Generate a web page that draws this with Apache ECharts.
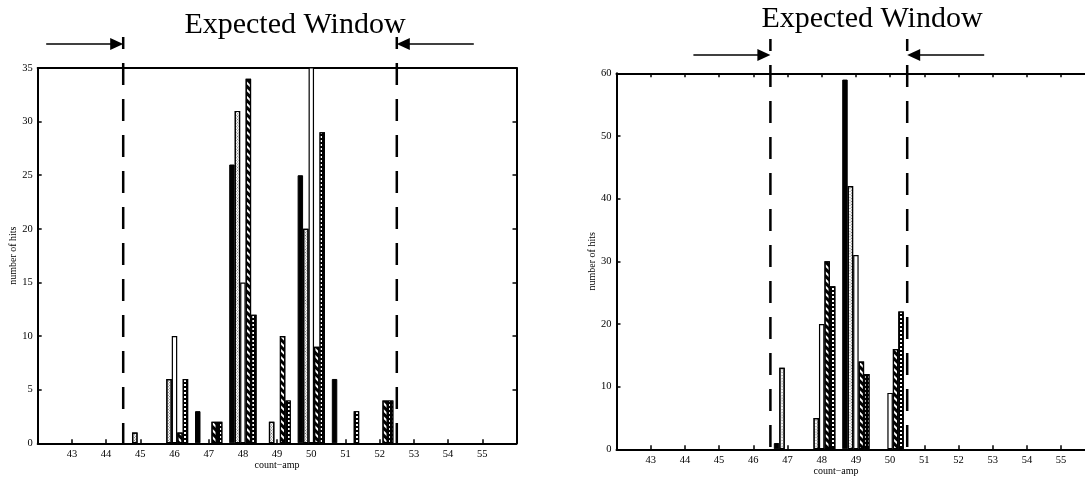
<!DOCTYPE html>
<html><head><meta charset="utf-8">
<script src="https://cdn.jsdelivr.net/npm/echarts@6/dist/echarts.min.js"></script>
<style>html,body{margin:0;padding:0;background:#fff}#c{width:1085px;height:478px}</style>
</head><body><div id="c"></div><script>
// x categories (count-amp) and tick labels
const categories = ['42','43','44','45','46','47','48','49','50','51','52','53','54','55','56'];
// left panel series (number of hits)
const leftSolid = [0,0,0,0,0,3,26,0,25,6,0,0,0,0,0];
const leftCross = [0,0,0,1,6,0,31,2,20,0,0,0,0,0,0];
const leftWhite = [0,0,0,0,10,0,15,0,36,0,0,0,0,0,0];
const leftDiag  = [0,0,0,0,1,2,34,10,9,0,4,0,0,0,0];
const leftDots  = [0,0,0,0,6,2,12,4,29,3,4,0,0,0,0];
// right panel series
const rightSolid = [0,0,0,0,0,1,0,59,0,0,0,0,0,0,0];
const rightCross = [0,0,0,0,0,13,5,42,0,0,0,0,0,0,0];
const rightWhite = [0,0,0,0,0,0,20,31,9,0,0,0,0,0,0];
const rightDiag  = [0,0,0,0,0,0,30,14,16,0,0,0,0,0,0];
const rightDots  = [0,0,0,0,0,0,26,12,22,0,0,0,0,0,0];
// expected window bounds
const leftWindow = [44.5, 52.5];
const rightWindow = [46.5, 50.5];
const titleText = 'Expected Window';
const xName = 'count\u2212amp';
const yName = 'number of hits';

const FONT = '"Liberation Serif", "Times New Roman", serif';
const chart = echarts.init(document.getElementById('c'), null, {renderer:'canvas'});

const lineStyle = {color:'#000', width:2};
function catAxis(grid, pos, ticks, labels){
  return {type:'category', gridIndex:grid, data:categories, boundaryGap:false, position:pos,
    axisLine:{show:true, onZero:false, lineStyle:lineStyle},
    axisTick:{show:ticks, inside:true, length:4, interval:0, lineStyle:{color:'#000', width:1.5}},
    axisLabel:{show:labels, interval:0, margin:5, color:'#000', fontFamily:FONT, fontSize:10.5,
      formatter:v => (v===categories[0] || v===categories[categories.length-1]) ? '' : v},
    splitLine:{show:false}};
}
function valAxis(grid, pos, max, interval, labels, name){
  return {type:'value', gridIndex:grid, min:0, max:max, interval:interval, position:pos,
    name: name || '', nameLocation:'middle', nameGap:17,
    nameTextStyle:{fontFamily:FONT, fontSize:10, color:'#000'},
    axisLine:{show:true, onZero:false, lineStyle:lineStyle},
    axisTick:{show:true, inside:true, length:4, lineStyle:{color:'#000', width:1.5}},
    axisLabel:{show:labels, margin:5, color:'#000', fontFamily:FONT, fontSize:10.5},
    splitLine:{show:false}};
}
const styles = {
  solid:{color:'#000', borderColor:'#000', borderWidth:1},
  cross:{color:'#fff', borderColor:'#000', borderWidth:1.2,
    decal:{symbol:'rect', symbolSize:1, dashArrayX:[1,1], dashArrayY:[1,1], rotation:Math.PI/4, color:'#666'}},
  white:{color:'#fff', borderColor:'#000', borderWidth:1.2},
  diag:{color:'#fff', borderColor:'#000', borderWidth:1.2,
    decal:{symbol:'rect', symbolSize:1, dashArrayX:[1,0], dashArrayY:[3,2], rotation:Math.PI/4, color:'#000'}},
  dots:{color:'#000', borderColor:'#000', borderWidth:1.2,
    decal:{symbol:'rect', symbolSize:1, dashArrayX:[2,1.5], dashArrayY:[2,1.5], rotation:0, color:'#fff'}}
};
function bar(data, xi, yi, st){
  // zero-count bins draw nothing
  return {type:'bar', xAxisIndex:xi, yAxisIndex:yi, data:data.map(v => v === 0 ? null : v),
    barGap:'0%', barCategoryGap:'20%', itemStyle:st, silent:true, animation:false, clip:true};
}

chart.setOption({
  animation:false,
  grid:[
    {left:37.7, top:68, width:478.8, height:375.3, outerBoundsMode:'none', containLabel:false},
    {left:616.5, top:73.3, width:478.8, height:376, outerBoundsMode:'none', containLabel:false}
  ],
  xAxis:[
    catAxis(0,'bottom',true,true),
    catAxis(1,'bottom',true,true),
    catAxis(0,'top',false,false),
    catAxis(1,'top',true,false),
    {type:'value', gridIndex:0, min:42, max:56, show:false},
    {type:'value', gridIndex:1, min:42, max:56, show:false}
  ],
  yAxis:[
    valAxis(0,'left',35,5,true,yName),
    valAxis(1,'left',60,10,true,yName),
    valAxis(0,'right',35,5,false),
    valAxis(1,'right',60,10,false)
  ],
  series:[
    bar(leftSolid,0,0,styles.solid),
    bar(leftCross,0,0,styles.cross),
    bar(leftWhite,0,0,styles.white),
    bar(leftDiag,0,0,styles.diag),
    bar(leftDots,0,0,styles.dots),
    bar(rightSolid,1,1,styles.solid),
    bar(rightCross,1,1,styles.cross),
    bar(rightWhite,1,1,styles.white),
    bar(rightDiag,1,1,styles.diag),
    bar(rightDots,1,1,styles.dots)
  ]
});

function annotations(win, xAxisIdx, yAxisIdx, topY, arrowY, titleX, titleY, nameX, nameY){
  const g = [];
  const bottom = chart.convertToPixel({yAxisIndex:yAxisIdx}, 0);
  const xs = win.map(v => chart.convertToPixel({xAxisIndex:xAxisIdx}, v));
  xs.forEach(x => {
    g.push({type:'line', z:100, silent:true, shape:{x1:x, y1:topY, x2:x, y2:bottom},
      style:{stroke:'#000', lineWidth:2.5, lineDash:[22,14], lineDashOffset:10}});
  });
  const L = 77, H = 13, W = 6;
  g.push({type:'line', z:100, silent:true, shape:{x1:xs[0]-L, y1:arrowY, x2:xs[0]-H+1, y2:arrowY}, style:{stroke:'#000', lineWidth:1.6}});
  g.push({type:'polygon', z:100, silent:true, shape:{points:[[xs[0]-H,arrowY-W],[xs[0],arrowY],[xs[0]-H,arrowY+W]]}, style:{fill:'#000'}});
  g.push({type:'line', z:100, silent:true, shape:{x1:xs[1]+L, y1:arrowY, x2:xs[1]+H-1, y2:arrowY}, style:{stroke:'#000', lineWidth:1.6}});
  g.push({type:'polygon', z:100, silent:true, shape:{points:[[xs[1]+H,arrowY-W],[xs[1],arrowY],[xs[1]+H,arrowY+W]]}, style:{fill:'#000'}});
  g.push({type:'text', z:100, silent:true, x:titleX, y:titleY,
    style:{text:titleText, fontFamily:FONT, fontSize:30, fill:'#000', align:'center', verticalAlign:'middle'}});
  g.push({type:'text', z:100, silent:true, x:nameX, y:nameY,
    style:{text:xName, fontFamily:FONT, fontSize:10, fill:'#000', align:'center', verticalAlign:'middle'}});
  return g;
}
const graphics = [].concat(
  annotations(leftWindow, 4, 0, 37, 44, 295, 25, 277, 465),
  annotations(rightWindow, 5, 1, 39, 55, 872, 19, 836, 471)
);
chart.setOption({graphic: graphics});
</script></body></html>
